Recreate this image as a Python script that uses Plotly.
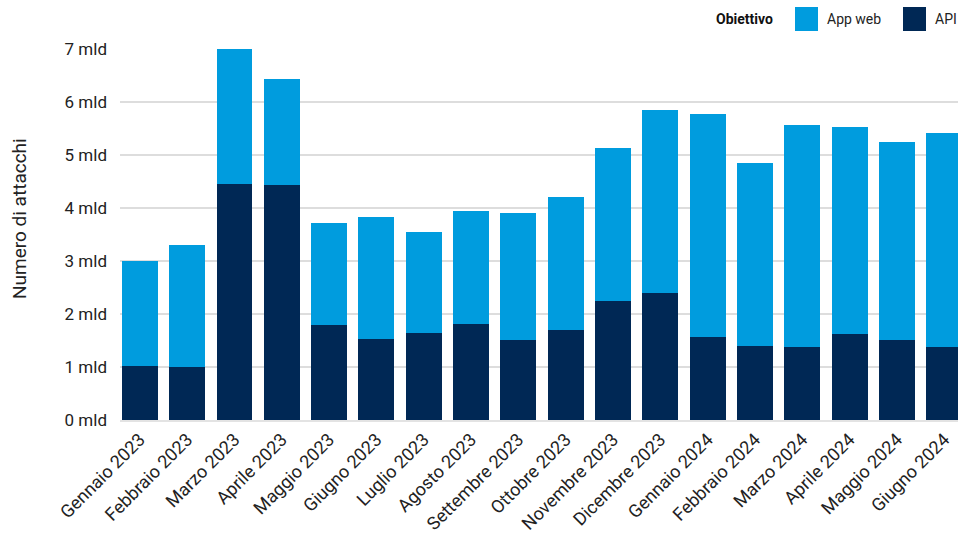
import plotly.graph_objects as go

# Monthly attack counts, in billions (mld)
months = [
    "Gennaio 2023", "Febbraio 2023", "Marzo 2023", "Aprile 2023", "Maggio 2023",
    "Giugno 2023", "Luglio 2023", "Agosto 2023", "Settembre 2023", "Ottobre 2023",
    "Novembre 2023", "Dicembre 2023", "Gennaio 2024", "Febbraio 2024", "Marzo 2024",
    "Aprile 2024", "Maggio 2024", "Giugno 2024",
]
api = [1.02, 1.00, 4.45, 4.43, 1.79, 1.53, 1.64, 1.81, 1.51, 1.70,
       2.25, 2.40, 1.57, 1.40, 1.38, 1.62, 1.51, 1.38]
totals = [3.00, 3.30, 7.00, 6.43, 3.72, 3.83, 3.55, 3.94, 3.91, 4.21,
          5.13, 5.85, 5.77, 4.85, 5.57, 5.53, 5.25, 5.42]
app_web = [round(t - a, 2) for t, a in zip(totals, api)]

y_ticks = [0, 1, 2, 3, 4, 5, 6, 7]
y_tick_labels = [f"{v} mld" for v in y_ticks]

COL_API = "#002855"
COL_WEB = "#009CDE"
FONT = "Roboto"
TEXT = "#222222"

# Figure geometry (pixels) used to place legend and title in paper space
W, H = 958, 548
ML, MR, MT, MB = 120, 0, 49, 128
PW, PH = W - ML - MR, H - MT - MB


def px_x(x):
    return (x - ML) / PW


def px_y(y):
    return (H - MB - y) / PH


fig = go.Figure()
fig.add_trace(go.Bar(name="API", x=months, y=api, marker_color=COL_API,
                     marker_line_width=0))
fig.add_trace(go.Bar(name="App web", x=months, y=app_web, marker_color=COL_WEB,
                     marker_line_width=0))

fig.update_layout(
    width=W, height=H,
    barmode="stack", bargap=0.24,
    showlegend=False,
    plot_bgcolor="white", paper_bgcolor="white",
    margin=dict(l=ML, r=MR, t=MT, b=MB),
    font=dict(family=FONT, size=16, color=TEXT),
    xaxis=dict(
        range=[-0.42, 17.29], tickangle=-45, showgrid=False,
        showline=True, linecolor="#e3e3e3", linewidth=2,
        tickfont=dict(size=18, color=TEXT), ticks="",
    ),
    yaxis=dict(
        range=[0, 7], tickvals=y_ticks, ticktext=y_tick_labels,
        showgrid=True, gridcolor="#dddddd", gridwidth=2, zeroline=False,
        tickfont=dict(size=17, color=TEXT), ticklabelstandoff=12,
    ),
)

# Vertical axis title
fig.add_annotation(text="Numero di attacchi", xref="paper", yref="paper",
                   x=px_x(19), y=px_y(219), textangle=-90,
                   xanchor="center", yanchor="middle", showarrow=False,
                   font=dict(size=19, color=TEXT))

# Legend row: title plus two square swatches
fig.add_annotation(text="<b>Obiettivo</b>", xref="paper", yref="paper",
                   x=px_x(775), y=px_y(19),
                   xanchor="right", yanchor="middle", showarrow=False,
                   font=dict(size=14, color="#111111"))
legend_items = [("App web", COL_WEB, 795, 825), ("API", COL_API, 903, 933)]
for label, color, sx, tx in legend_items:
    fig.add_shape(type="rect", xref="paper", yref="paper",
                  x0=px_x(sx), x1=px_x(sx + 23),
                  y0=px_y(31), y1=px_y(7),
                  fillcolor=color, line_width=0)
    fig.add_annotation(text=label, xref="paper", yref="paper",
                       x=px_x(tx), y=px_y(19),
                       xanchor="left", yanchor="middle", showarrow=False,
                       font=dict(size=14, color=TEXT))

fig.write_html("out.html")
